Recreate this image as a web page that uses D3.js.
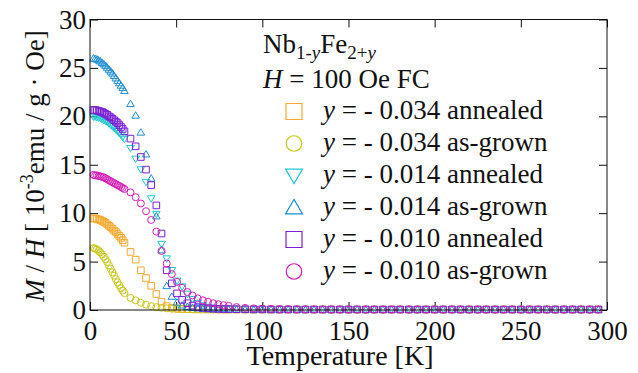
<!DOCTYPE html>
<html>
<head>
<meta charset="utf-8">
<script src="https://cdn.jsdelivr.net/npm/d3@7"></script>
<style>
  body { margin: 0; background: #fff; }
</style>
</head>
<body>
<div id="chart"></div>
<script>
// temperatures [K] shared by all six runs
var temperature = [
    2, 3, 4, 5, 6, 7, 8, 9, 10, 11, 12, 13, 14, 15, 16, 17, 18, 19, 20,
    23.5, 26.5, 29.5, 32.5, 35.5, 38.5, 41.5, 44.5, 47.5, 50.5, 53.5, 56.5, 59.5, 62.5, 65.5, 68.5, 71.5, 74.5, 77.5, 80.5,
    85, 90, 95, 100, 105, 110, 115, 120, 125, 130, 135, 140, 145, 150, 155, 160, 165, 170, 175, 180,
    185, 190, 195, 200, 205, 210, 215, 220, 225, 230, 235, 240, 245, 250, 255, 260, 265, 270, 275, 280,
    285, 290, 295
];

// M/H [10^-3 emu / g Oe]
var m034_annealed = [
    9.45, 9.45, 9.4, 9.35, 9.3, 9.2, 9.1, 9.0, 8.85, 8.7, 8.55, 8.4, 8.2, 8.05, 7.85, 7.65, 7.45, 7.2, 6.95,
    6.0, 5.2, 4.1, 3.3, 2.5, 1.65, 0.86, 0.4, 0.22, 0.14, 0.1, 0.08, 0.07, 0.07, 0.06, 0.06, 0.06, 0.06, 0.05, 0.05,
    0.05, 0.05, 0.05, 0.05, 0.05, 0.05, 0.05, 0.05, 0.05, 0.05, 0.05, 0.05, 0.05, 0.05, 0.05, 0.05, 0.05, 0.05, 0.05, 0.05,
    0.05, 0.05, 0.05, 0.05, 0.05, 0.05, 0.05, 0.05, 0.05, 0.05, 0.05, 0.05, 0.05, 0.05, 0.05, 0.05, 0.05, 0.05, 0.05, 0.05,
    0.05, 0.05, 0.05
];
var m034_asgrown = [
    6.4, 6.35, 6.25, 6.1, 5.95, 5.75, 5.5, 5.25, 4.95, 4.6, 4.25, 3.9, 3.55, 3.2, 2.85, 2.55, 2.25, 2.0, 1.75,
    1.25, 1.0, 0.75, 0.55, 0.4, 0.3, 0.22, 0.17, 0.13, 0.1, 0.09, 0.08, 0.07, 0.07, 0.06, 0.06, 0.06, 0.05, 0.05, 0.05,
    0.05, 0.05, 0.05, 0.05, 0.05, 0.05, 0.05, 0.05, 0.05, 0.05, 0.05, 0.05, 0.05, 0.05, 0.05, 0.05, 0.05, 0.05, 0.05, 0.05,
    0.05, 0.05, 0.05, 0.05, 0.05, 0.05, 0.05, 0.05, 0.05, 0.05, 0.05, 0.05, 0.05, 0.05, 0.05, 0.05, 0.05, 0.05, 0.05, 0.05,
    0.05, 0.05, 0.05
];
var m014_annealed = [
    19.95, 19.95, 19.9, 19.85, 19.8, 19.7, 19.6, 19.5, 19.4, 19.25, 19.1, 18.95, 18.8, 18.6, 18.45, 18.25, 18.05, 17.85, 17.65,
    16.7, 15.6, 14.5, 13.2, 11.5, 9.9, 6.8, 5.3, 4.1, 3.0, 2.4, 1.65, 1.1, 0.7, 0.45, 0.3, 0.22, 0.17, 0.14, 0.12,
    0.1, 0.09, 0.08, 0.07, 0.07, 0.06, 0.06, 0.05, 0.05, 0.05, 0.05, 0.05, 0.05, 0.05, 0.05, 0.05, 0.05, 0.05, 0.05, 0.05,
    0.05, 0.05, 0.05, 0.05, 0.05, 0.05, 0.05, 0.05, 0.05, 0.05, 0.05, 0.05, 0.05, 0.05, 0.05, 0.05, 0.05, 0.05, 0.05, 0.05,
    0.05, 0.05, 0.05
];
var m014_asgrown = [
    26.0, 25.95, 25.9, 25.8, 25.7, 25.55, 25.4, 25.25, 25.05, 24.85, 24.65, 24.45, 24.2, 23.95, 23.7, 23.45, 23.2, 22.95, 22.65,
    21.3, 20.1, 18.35, 16.1, 13.6, 9.7, 6.2, 2.5, 1.4, 0.8, 0.5, 0.35, 0.25, 0.2, 0.15, 0.12, 0.1, 0.09, 0.08, 0.07,
    0.06, 0.06, 0.05, 0.05, 0.05, 0.05, 0.05, 0.05, 0.05, 0.05, 0.05, 0.05, 0.05, 0.05, 0.05, 0.05, 0.05, 0.05, 0.05, 0.05,
    0.05, 0.05, 0.05, 0.05, 0.05, 0.05, 0.05, 0.05, 0.05, 0.05, 0.05, 0.05, 0.05, 0.05, 0.05, 0.05, 0.05, 0.05, 0.05, 0.05,
    0.05, 0.05, 0.05
];
var m010_annealed = [
    20.65, 20.65, 20.6, 20.55, 20.5, 20.45, 20.35, 20.25, 20.15, 20.0, 19.9, 19.75, 19.6, 19.45, 19.3, 19.1, 18.9, 18.7, 18.45,
    17.7, 16.9, 15.8, 14.5, 12.9, 10.8, 7.9, 4.1, 2.75, 1.72, 1.05, 0.7, 0.45, 0.3, 0.22, 0.17, 0.14, 0.12, 0.1, 0.1,
    0.08, 0.07, 0.06, 0.06, 0.05, 0.05, 0.05, 0.05, 0.05, 0.05, 0.05, 0.05, 0.05, 0.05, 0.05, 0.05, 0.05, 0.05, 0.05, 0.05,
    0.05, 0.05, 0.05, 0.05, 0.05, 0.05, 0.05, 0.05, 0.05, 0.05, 0.05, 0.05, 0.05, 0.05, 0.05, 0.05, 0.05, 0.05, 0.05, 0.05,
    0.05, 0.05, 0.05
];
var m010_asgrown = [
    13.95, 13.9, 13.9, 13.85, 13.8, 13.75, 13.7, 13.6, 13.5, 13.4, 13.3, 13.2, 13.1, 13.0, 12.9, 12.8, 12.7, 12.6, 12.5,
    12.15, 11.65, 11.0, 10.2, 9.3, 8.1, 6.1, 4.8, 3.7, 2.9, 2.3, 1.85, 1.5, 1.2, 1.0, 0.85, 0.7, 0.6, 0.5, 0.42,
    0.3, 0.22, 0.17, 0.14, 0.12, 0.1, 0.09, 0.08, 0.07, 0.06, 0.05, 0.05, 0.05, 0.05, 0.05, 0.05, 0.05, 0.05, 0.05, 0.05,
    0.05, 0.05, 0.05, 0.05, 0.05, 0.05, 0.05, 0.05, 0.05, 0.05, 0.05, 0.05, 0.05, 0.05, 0.05, 0.05, 0.05, 0.05, 0.05, 0.05,
    0.05, 0.05, 0.05
];

var seriesValues = [m034_annealed, m034_asgrown, m014_annealed, m014_asgrown, m010_annealed, m010_asgrown];
var seriesY = ["- 0.034", "- 0.034", "- 0.014", "- 0.014", "- 0.010", "- 0.010"];
var seriesKind = ["annealed", "as-grown", "annealed", "as-grown", "annealed", "as-grown"];
var seriesColors = ["#f8a82e", "#c9c81e", "#21cad2", "#1f8ed4", "#7a1fd6", "#d41db6"];
var seriesShapes = ["square", "circle", "triangleDown", "triangleUp", "square", "circle"];

var xTicks = [0, 50, 100, 150, 200, 250, 300];
var yTicks = [0, 5, 10, 15, 20, 25, 30];

var W = 638, H = 373;
var margin = { top: 19.5, right: 31, bottom: 63, left: 90 };
var FONT = "'Liberation Serif', 'Times New Roman', Times, serif";
var FS = 27;

function markerPath(shape, s) {
    var h = s / 2;
    switch (shape) {
        case "square":
            return "M" + (-h) + "," + (-h) + "H" + h + "V" + h + "H" + (-h) + "Z";
        case "circle":
            return "M" + h + ",0A" + h + "," + h + " 0 1,1 " + (-h) + ",0A" + h + "," + h + " 0 1,1 " + h + ",0Z";
        case "triangleUp":
            return "M0," + (-h * 0.95) + "L" + h + "," + (h * 0.75) + "L" + (-h) + "," + (h * 0.75) + "Z";
        case "triangleDown":
            return "M0," + (h * 0.95) + "L" + h + "," + (-h * 0.75) + "L" + (-h) + "," + (-h * 0.75) + "Z";
    }
}
var plotSize = { square: 6.6, circle: 7, triangleUp: 7.6, triangleDown: 7.6 };
var legendSize = { square: 16, circle: 15.5, triangleUp: 17, triangleDown: 17 };

var svg = d3.select("#chart").append("svg")
    .attr("width", W)
    .attr("height", H)
    .attr("font-family", FONT);

var x = d3.scaleLinear().domain([0, 300]).range([margin.left, W - margin.right]);
var y = d3.scaleLinear().domain([0, 30]).range([H - margin.bottom, margin.top]);

// axes with inward ticks on all four sides
function styleAxis(g) {
    g.attr("font-family", FONT).attr("font-size", FS);
    g.select(".domain").remove();
    g.selectAll("line").attr("stroke", "#111").attr("stroke-width", 1);
    g.selectAll("text").attr("font-family", FONT).attr("font-size", FS).attr("fill", "#111");
}
svg.append("g")
    .attr("transform", "translate(0," + y(0) + ")")
    .call(d3.axisBottom(x).tickValues(xTicks).tickSizeInner(-8).tickSizeOuter(0).tickPadding(11))
    .call(styleAxis);
svg.append("g")
    .attr("transform", "translate(0," + y(30) + ")")
    .call(d3.axisTop(x).tickValues(xTicks).tickSizeInner(-8).tickSizeOuter(0).tickFormat(""))
    .call(styleAxis);
svg.append("g")
    .attr("transform", "translate(" + x(0) + ",0)")
    .call(d3.axisLeft(y).tickValues(yTicks).tickSizeInner(-8).tickSizeOuter(0).tickPadding(4))
    .call(styleAxis);
svg.append("g")
    .attr("transform", "translate(" + x(300) + ",0)")
    .call(d3.axisRight(y).tickValues(yTicks).tickSizeInner(-8).tickSizeOuter(0).tickFormat(""))
    .call(styleAxis);

// data markers
seriesValues.forEach(function (vals, i) {
    var pts = temperature.map(function (t, k) { return { t: t, v: vals[k] }; });
    svg.append("g")
        .selectAll("path")
        .data(pts)
        .join("path")
        .attr("d", markerPath(seriesShapes[i], plotSize[seriesShapes[i]]))
        .attr("transform", function (d) { return "translate(" + x(d.t) + "," + y(d.v) + ")"; })
        .attr("fill", "none")
        .attr("stroke", seriesColors[i])
        .attr("stroke-width", 1);
});

// frame
svg.append("rect")
    .attr("x", x(0)).attr("y", y(30))
    .attr("width", x(300) - x(0)).attr("height", y(0) - y(30))
    .attr("fill", "none").attr("stroke", "#111").attr("stroke-width", 1);

// axis titles
svg.append("text")
    .attr("x", 340).attr("y", 365)
    .attr("text-anchor", "middle")
    .attr("font-size", 28)
    .attr("fill", "#111")
    .text("Temperature [K]");

var ylab = svg.append("text")
    .attr("transform", "translate(44,166) rotate(-90)")
    .attr("text-anchor", "middle")
    .attr("font-size", FS)
    .attr("fill", "#111");
ylab.append("tspan").attr("font-style", "italic").text("M");
ylab.append("tspan").text(" / ");
ylab.append("tspan").attr("font-style", "italic").text("H");
ylab.append("tspan").text(" [ 10");
ylab.append("tspan").attr("font-size", 18).attr("dy", -11).text("-3");
ylab.append("tspan").attr("dy", 11).text("emu / g \u00b7 Oe]");

// legend
var leg = svg.append("g").attr("fill", "#111");
var t1 = leg.append("text").attr("x", 263).attr("y", 53).attr("font-size", FS);
t1.append("tspan").text("Nb");
t1.append("tspan").attr("font-size", 19).attr("dy", 6).text("1-");
t1.append("tspan").attr("font-size", 19).attr("font-style", "italic").text("y");
t1.append("tspan").attr("dy", -6).text("Fe");
t1.append("tspan").attr("font-size", 19).attr("dy", 6).text("2+");
t1.append("tspan").attr("font-size", 19).attr("font-style", "italic").text("y");

var t2 = leg.append("text").attr("x", 263).attr("y", 88).attr("font-size", FS);
t2.append("tspan").attr("font-style", "italic").text("H");
t2.append("tspan").text(" = 100 Oe FC");

seriesValues.forEach(function (vals, i) {
    var by = 119 + 32 * i;
    leg.append("path")
        .attr("d", markerPath(seriesShapes[i], legendSize[seriesShapes[i]]))
        .attr("transform", "translate(294," + (by - 7.5) + ")")
        .attr("fill", "none")
        .attr("stroke", seriesColors[i])
        .attr("stroke-width", 1.2);
    var tx = leg.append("text").attr("x", 323).attr("y", by).attr("font-size", FS);
    tx.append("tspan").attr("font-style", "italic").text("y");
    tx.append("tspan").text(" = " + seriesY[i] + " " + seriesKind[i]);
});
</script>
</body>
</html>
